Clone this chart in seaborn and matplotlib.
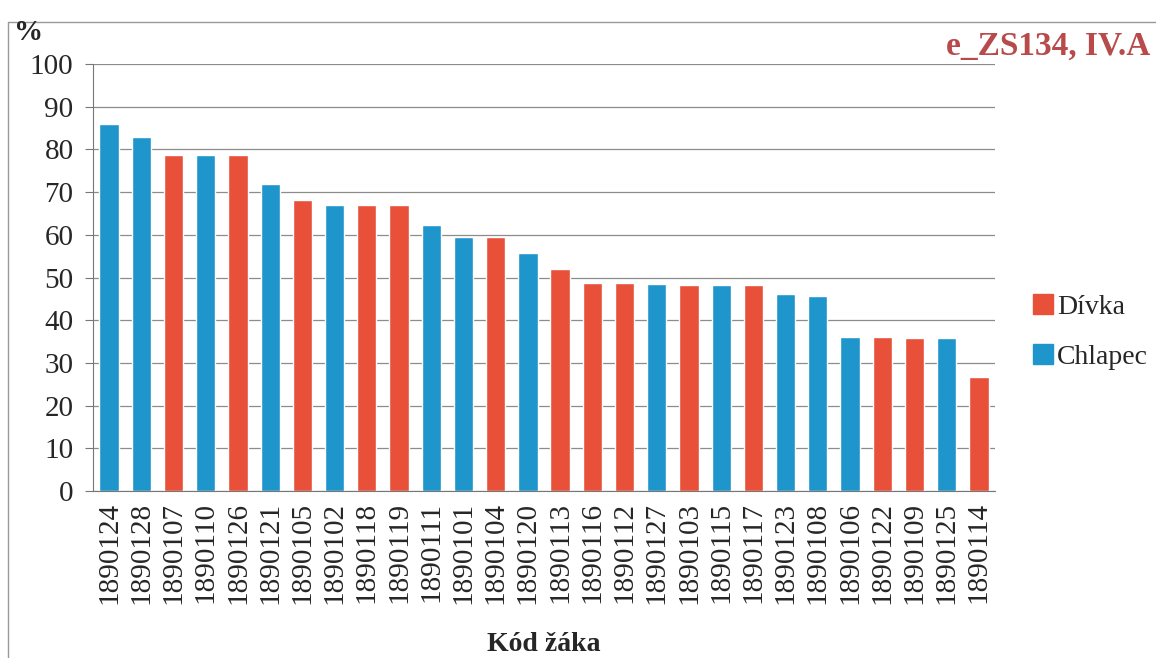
import matplotlib
matplotlib.use("Agg")
import matplotlib.pyplot as plt
import pandas as pd
import seaborn as sns
from matplotlib.lines import Line2D

# data
students = ["1890124", "1890128", "1890107", "1890110", "1890126", "1890121", "1890105",
            "1890102", "1890118", "1890119", "1890111", "1890101", "1890104", "1890120",
            "1890113", "1890116", "1890112", "1890127", "1890103", "1890115", "1890117",
            "1890123", "1890108", "1890106", "1890122", "1890109", "1890125", "1890114"]
scores = [85.9, 83.0, 78.7, 78.7, 78.7, 72.0, 68.1, 67.0, 67.0, 67.0, 62.3, 59.5, 59.5, 55.8,
          52.1, 48.8, 48.6, 48.5, 48.3, 48.2, 48.2, 46.2, 45.6, 36.1, 36.1, 35.8, 35.8, 26.7]
gender = ["Chlapec", "Chlapec", "Dívka", "Chlapec", "Dívka", "Chlapec", "Dívka",
          "Chlapec", "Dívka", "Dívka", "Chlapec", "Chlapec", "Dívka", "Chlapec",
          "Dívka", "Dívka", "Dívka", "Chlapec", "Dívka", "Chlapec", "Dívka",
          "Chlapec", "Chlapec", "Chlapec", "Dívka", "Dívka", "Chlapec", "Dívka"]

df = pd.DataFrame({"Kód žáka": students, "score": scores, "pohlavi": gender})

sns.set_style("white")
plt.rcParams["font.family"] = ["Liberation Serif", "DejaVu Serif"]

palette = {"Dívka": "#E8503A", "Chlapec": "#1E96CC"}

fig = plt.figure(figsize=(11.56, 6.58), dpi=100)
ax = fig.add_axes([93 / 1156, 1 - 491 / 658, (995 - 93) / 1156, (491 - 64) / 658])

sns.barplot(data=df, x="Kód žáka", y="score", hue="pohlavi", palette=palette,
            hue_order=["Dívka", "Chlapec"], dodge=False, width=0.6, saturation=1,
            order=students, ax=ax, legend=False)

ax.set_ylim(0, 100)
ax.set_xlim(-0.5, len(students) - 0.5)
ax.set_yticks(range(0, 101, 10))
ax.yaxis.grid(True, color="#8c8c8c", linewidth=0.9)
ax.set_axisbelow(True)
for s in ["top", "right"]:
    ax.spines[s].set_visible(False)
ax.spines["left"].set_color("#777777")
ax.spines["bottom"].set_color("#777777")
ax.tick_params(axis="y", labelsize=21, length=6, color="#777777", left=True, pad=8)
ax.tick_params(axis="x", labelsize=21, length=0, rotation=90, pad=8)
ax.set_ylabel("")
ax.set_xlabel("Kód žáka", fontsize=20, fontweight="bold", labelpad=20)

fig.text(14 / 1156, 1 - 33 / 658, "%", fontsize=21, fontweight="bold", va="center")
fig.text(1150 / 1156, 1 - 46 / 658, "e_ZS134, IV.A", fontsize=24, fontweight="bold",
         color="#B84A4C", ha="right", va="center")

handles = [Line2D([], [], marker="s", linestyle="", markersize=14, color=palette[k])
           for k in ["Dívka", "Chlapec"]]
fig.legend(handles, ["Dívka", "Chlapec"], loc="center left",
           bbox_to_anchor=(1004 / 1156, 1 - 332 / 658), frameon=False, fontsize=20,
           handletextpad=0.0, labelspacing=0.9, handlelength=1.0)

# frame of the chart
fig.add_artist(Line2D([8 / 1156, 8 / 1156], [0, 1 - 22 / 658], transform=fig.transFigure,
                      color="#999999", linewidth=1))
fig.add_artist(Line2D([8 / 1156, 1], [1 - 22 / 658, 1 - 22 / 658], transform=fig.transFigure,
                      color="#999999", linewidth=1))

fig.savefig("out.png", dpi=100)
